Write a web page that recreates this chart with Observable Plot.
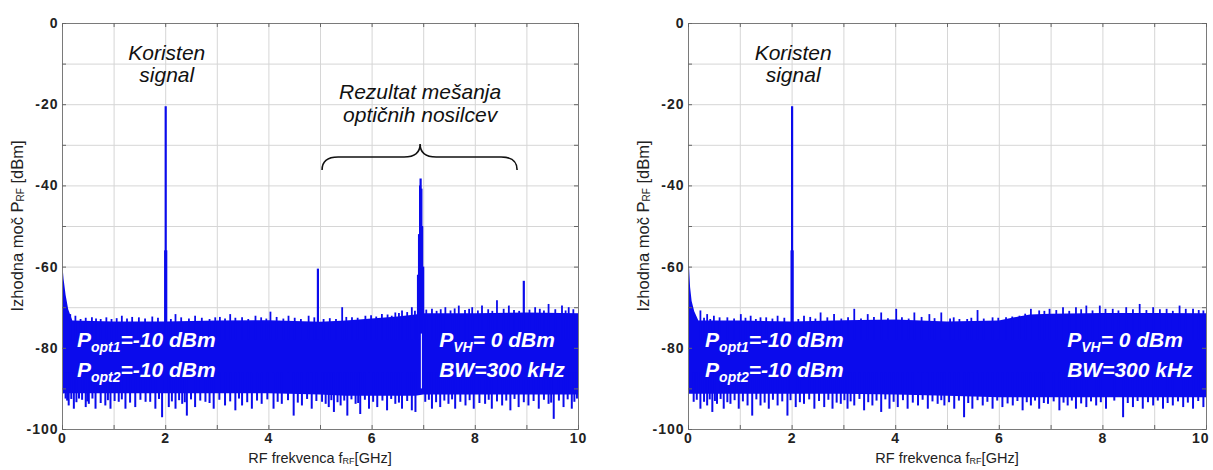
<!DOCTYPE html>
<html><head><meta charset="utf-8">
<script src="https://cdn.jsdelivr.net/npm/d3@7"></script>
<script src="https://cdn.jsdelivr.net/npm/@observablehq/plot@0.6"></script>
<style>
body{margin:0;background:#fff;}
#wrap{display:flex;width:1213px;height:470px;overflow:hidden;}
svg{display:block;}
svg text{font-family:"Liberation Sans",Arial,sans-serif;}
g[aria-label$="tick label"]{font-weight:bold;font-size:14px;fill:#222;letter-spacing:1px;}
</style></head><body><div id="wrap"></div>
<script>
// ---------- axis ticks ----------
const xTicks = [0, 2, 4, 6, 8, 10];
const yTicks = [0, -20, -40, -60, -80, -100];
const xGrid = [0, 1, 2, 3, 4, 5, 6, 7, 8, 9, 10];
const yGrid = [0, -10, -20, -30, -40, -50, -60, -70, -80, -90, -100];

// ---------- left panel (with mixing products) ----------
const leftEnvX = [0, 0.01, 0.03, 0.07, 0.12, 0.2, 1, 2, 3, 4, 5, 5.5, 6, 6.5, 6.85, 7, 8, 9, 10];
const leftEnvTop = [-59, -60, -63, -67, -70.5, -73.3, -73.5, -73.5, -73.3, -73.2, -73.6, -73.3, -72.8, -72.3, -71.8, -71.5, -71.5, -71.3, -71.5];
const leftEnvBottom = [-92, -91.5, -91.2, -91.2, -91.2, -91.2, -91.2, -91.2, -91.2, -91.2, -91.5, -91.8, -91.8, -91.8, -91.8, -91.5, -91.5, -91.5, -91.5];
const leftDipX = [0.06,0.12,0.22,0.32,0.45,0.51,0.64,0.83,0.93,1.09,1.22,1.41,1.61,1.80,1.93,2.06,2.19,2.32,2.41,2.57,2.77,2.93,3.15,3.35,3.48,3.67,3.86,4.09,4.25,4.48,4.64,4.83,
  5.03,5.16,5.26,5.39,5.52,5.68,5.77,5.94,6.10,6.29,6.45,6.58,6.77,6.84,7.03,7.16,7.32,7.48,7.61,7.81,7.97,8.19,8.32,8.52,8.68,8.84,9.03,9.23,9.42,9.52,9.71,9.87,9.97];
const leftDipY = [-92.5,-94.2,-95,-92.5,-94.6,-93.8,-95,-94.2,-95,-93.3,-95,-94.6,-93.3,-95,-97.1,-94.6,-95,-93.8,-96.7,-94.6,-93.3,-95,-94.2,-95.4,-94.2,-95,-93.8,-95,-93.8,-96.7,-94.2,-95,
  -93.3,-94.6,-95.8,-94.2,-96.7,-93.8,-96.3,-95,-94.6,-95.4,-93.8,-95,-95.4,-95.8,-93.3,-95,-94.6,-93.8,-95,-94.2,-95,-93.8,-95,-94.2,-95.4,-94.6,-94.2,-95,-93.8,-97.5,-94.6,-95,-92.5];
// shallower dips between the deep ones, as [GHz, dBm]
const leftDip2 = [[0.09,-93],[0.17,-92.6],[0.27,-93.4],[0.38,-92.8],[0.48,-93.2],[0.58,-92.5],[0.74,-93.6],[0.88,-92.9],[1.01,-93.1],[1.15,-92.7],[1.31,-93.5],[1.51,-92.8],[1.70,-93.3],[1.87,-92.6],
  [2.12,-93.2],[2.26,-92.9],[2.37,-93.4],[2.49,-92.7],[2.67,-93],[2.85,-93.6],[3.04,-92.8],[3.25,-93.2],[3.42,-92.5],[3.58,-93.4],[3.77,-93],[3.97,-92.7],[4.17,-93.3],[4.37,-92.9],[4.56,-93.5],[4.74,-92.6],[4.92,-93.1],
  [5.10,-93.8],[5.21,-92.9],[5.33,-93.4],[5.46,-93],[5.60,-92.7],[5.73,-93.6],[5.86,-92.8],[6.02,-93.3],[6.20,-93],[6.37,-92.6],[6.52,-93.5],[6.68,-93.1],
  [7.10,-92.8],[7.24,-93.4],[7.40,-93],[7.55,-92.7],[7.71,-93.3],[7.89,-92.9],[8.08,-93.6],[8.26,-92.8],[8.42,-93.2],[8.60,-93],[8.76,-92.6],[8.94,-93.4],[9.13,-93.1],[9.33,-92.8],[9.47,-93.5],[9.62,-93],[9.79,-92.7],[9.92,-93.3]];
const leftBumpX = [0.15,0.25,0.57,0.74,1.15,1.48,1.74,2.19,2.57,2.96,3.25,3.48,3.74,4.03,4.38,4.77,5.06,5.42,5.61,5.87,6.19,6.45,6.58,6.77,7.16,7.42,7.68,7.94,8.13,8.42,8.65,9.16,9.42,9.68,9.81];
const leftBumpY = [-71.7,-72.1,-72.5,-72.9,-72.1,-72.5,-72.3,-71.7,-72.1,-72.5,-71.7,-72.5,-72.1,-71.1,-72.1,-72.1,-72.9,-70.0,-72.5,-72.1,-71.7,-71.3,-70.8,-70.0,-70.4,-70.0,-69.6,-70.0,-69.6,-68.3,-69.6,-70.0,-69.2,-69.6,-70.0];
const leftBump2 = [[0.35,-72.9],[0.45,-72.6],[0.65,-72.8],[0.85,-72.5],[0.95,-72.9],[1.05,-72.7],[1.25,-72.8],[1.35,-72.4],[1.6,-72.8],[1.85,-72.6],[2.1,-72.9],[2.3,-72.5],[2.45,-72.8],[2.7,-72.6],[2.85,-72.9],
  [3.05,-72.4],[3.15,-72.8],[3.35,-72.6],[3.6,-72.9],[3.85,-72.5],[3.95,-72.8],[4.15,-72.4],[4.28,-72.8],[4.5,-72.6],[4.62,-72.9],[4.88,-72.5],[5.18,-72.7],[5.3,-72.9],[5.5,-72.4],[5.72,-72.6],
  [5.98,-72.0],[6.08,-72.3],[6.3,-71.8],[6.38,-72.1],[6.52,-71.4],[6.68,-71.2],[6.83,-70.9],[7.05,-70.6],[7.25,-70.9],[7.33,-70.5],[7.52,-70.8],[7.6,-70.3],[7.8,-70.7],[7.88,-70.4],[8.05,-70.8],
  [8.25,-70.5],[8.33,-70.9],[8.55,-70.4],[8.75,-70.7],[8.85,-70.9],[9.05,-70.6],[9.25,-70.4],[9.33,-70.8],[9.55,-70.5],[9.75,-70.8],[9.9,-70.5]];
const leftPeakX = [1.99, 2.0, 2.01, 4.95, 6.89, 6.91, 6.93, 6.94, 6.955, 6.97, 6.99, 8.94];
const leftPeakY = [-56, -20.5, -56, -60.5, -62, -52, -40, -38.3, -40.8, -50, -60, -63.5];
const leftGapX = [6.955];

// ---------- right panel ----------
const rightEnvX = [0, 0.01, 0.02, 0.04, 0.07, 0.12, 0.2, 1, 2, 3, 4, 5, 6, 6.3, 6.6, 7, 8, 9, 10];
const rightEnvTop = [-53, -55, -60, -65, -68.5, -71, -73.3, -73.3, -73.5, -73.2, -73, -73.5, -73.3, -72.5, -71.8, -71.6, -71.4, -71.4, -71.5];
const rightEnvBottom = [-92, -91.5, -91.3, -91.3, -91.3, -91.3, -91.3, -91.3, -91.3, -91.3, -91.5, -91.8, -92.2, -92.2, -92.2, -92.2, -92.2, -92.2, -92.2];
const rightDipX = [0.10,0.23,0.36,0.46,0.55,0.68,0.81,0.97,1.14,1.23,1.39,1.55,1.72,1.91,2.07,2.23,2.43,2.62,2.78,2.94,3.07,3.20,3.39,3.55,3.72,3.88,4.04,4.23,4.43,4.62,4.81,
  4.94,5.13,5.32,5.48,5.68,5.87,6.06,6.26,6.45,6.61,6.77,6.94,7.16,7.32,7.48,7.68,7.87,8.06,8.39,8.58,8.77,8.97,9.16,9.35,9.55,9.74,9.94];
const rightDipY = [-93.3,-95,-94.2,-95.8,-93.8,-95,-93.8,-95,-94.2,-96.7,-94.2,-95,-94.2,-96.7,-94.6,-93.8,-95,-94.6,-95,-93.8,-95,-94.2,-95.4,-94.2,-95.8,-95,-94.6,-95,-94.2,-95,-93.8,
  -94.2,-95,-97.1,-95,-94.2,-95,-94.6,-94.2,-95.4,-94.2,-95,-93.8,-95.4,-94.2,-95,-94.6,-94.2,-95,-97.1,-94.6,-95,-94.2,-95,-94.2,-94.6,-95,-94.6];
const rightDip2 = [[0.16,-92.8],[0.30,-93.3],[0.41,-92.7],[0.51,-93.1],[0.62,-92.6],[0.75,-93.4],[0.89,-92.9],[1.05,-93.2],[1.31,-92.7],[1.47,-93.5],[1.63,-92.8],[1.81,-93.2],[1.97,-92.9],
  [2.15,-93.4],[2.33,-92.7],[2.52,-93.1],[2.70,-92.8],[2.86,-93.5],[3.01,-92.9],[3.13,-93.2],[3.30,-92.6],[3.47,-93.4],[3.63,-93],[3.80,-92.7],[3.96,-93.3],[4.14,-92.9],[4.33,-93.5],[4.52,-92.8],[4.71,-93.2],[4.88,-92.9],
  [5.03,-93.4],[5.22,-93],[5.40,-93.6],[5.58,-92.9],[5.77,-93.3],[5.96,-93],[6.16,-93.7],[6.35,-93.1],[6.53,-93.4],[6.69,-93],[6.86,-93.6],[7.05,-93.2],[7.24,-93.5],[7.40,-93],
  [7.58,-93.7],[7.77,-93.2],[7.96,-93.4],[8.22,-93],[8.48,-93.6],[8.67,-93.1],[8.87,-93.4],[9.06,-93],[9.25,-93.6],[9.45,-93.2],[9.64,-93.5],[9.84,-93.1]];
const rightBumpX = [0.23,0.36,0.49,0.75,1.01,1.20,1.39,1.72,2.23,2.55,2.81,3.20,3.46,3.72,4.01,4.36,4.65,4.88,5.23,5.58,5.87,6.13,6.39,6.61,6.77,6.97,7.23,7.48,7.68,7.94,8.19,8.45,8.71,8.97,9.23,9.48,9.74,9.94];
const rightBumpY = [-70.8,-71.7,-72.1,-72.5,-71.7,-72.1,-72.5,-72.1,-72.1,-71.3,-71.7,-70.4,-71.7,-71.3,-70.4,-71.3,-71.7,-71.3,-72.9,-70.7,-72.5,-72.5,-72.1,-70.4,-70.8,-70.4,-70,-70,-69.6,-69.6,-70.4,-70,-69.2,-70,-70.4,-69.6,-70.4,-70.8];
const rightBump2 = [[0.3,-72.6],[0.42,-72.9],[0.6,-72.5],[0.88,-72.8],[1.1,-72.6],[1.3,-72.9],[1.5,-72.5],[1.62,-72.8],[1.85,-72.6],[2.12,-72.9],[2.35,-72.4],[2.45,-72.8],[2.68,-72.5],[2.95,-72.8],[3.08,-72.5],
  [3.33,-72.8],[3.58,-72.4],[3.85,-72.7],[4.12,-72.5],[4.25,-72.8],[4.5,-72.4],[4.75,-72.7],[5.05,-72.8],[5.12,-72.5],[5.38,-72.9],[5.46,-72.6],[5.7,-72.8],[5.98,-72.6],[6.25,-72.3],[6.5,-71.6],
  [6.87,-70.9],[7.1,-70.7],[7.35,-70.9],[7.58,-70.5],[7.8,-70.8],[8.05,-70.4],[8.3,-70.8],[8.58,-70.5],[8.84,-70.7],[9.1,-70.5],[9.35,-70.9],[9.6,-70.4],[9.85,-70.7]];
const rightPeakX = [1.99, 2.0, 2.01];
const rightPeakY = [-56, -20.5, -56];

// ---------- texts ----------
const yLabel = ["Izhodna moč P", "RF", " [dBm]"];
const xLabel = ["RF frekvenca f", "RF", "[GHz]"];
const signalLabel = ["Koristen", "signal"];
const mixLabel = ["Rezultat mešanja", "optičnih nosilcev"];
const optLines = [["P", "opt1", "=-10 dBm"], ["P", "opt2", "=-10 dBm"]];
const rightLines = [["P", "VH", "= 0 dBm"], ["BW=300 kHz", "", ""]];
// brace over mixing products: x range, tip
const braceX = [5.04, 8.82];
const braceTip = [6.94, -29.8];
const braceEndY = -36.2;

const BLUE = "#0b0bec";
const zip = (xs, ys) => xs.map((x, i) => ({x, y: ys[i]}));
const pairs = ps => ps.map(([x, y]) => ({x, y}));

function panel(o) {
  const H = 470, mt = 23, mb = 41;
  const pw = o.width - o.ml - o.mr, ph = H - mt - mb;
  const env = o.envX.map((x, i) => ({x, hi: o.envTop[i], lo: o.envBottom[i]}));
  const marks = [
    Plot.ruleX(xGrid, {x: d => d, stroke: "#d6d6d6", strokeWidth: 1}),
    Plot.ruleY(yGrid, {y: d => d, stroke: "#d6d6d6", strokeWidth: 1}),
    Plot.areaY(env, {x: "x", y1: "lo", y2: "hi", fill: BLUE}),
    Plot.ruleX(zip(o.dipX, o.dipY), {x: "x", y1: () => -86, y2: "y", stroke: BLUE, strokeWidth: 2}),
    Plot.ruleX(pairs(o.dip2), {x: "x", y1: () => -86, y2: "y", stroke: BLUE, strokeWidth: 2}),
    Plot.ruleX(zip(o.bumpX, o.bumpY), {x: "x", y1: () => -78, y2: "y", stroke: BLUE, strokeWidth: 1.8}),
    Plot.ruleX(pairs(o.bump2), {x: "x", y1: () => -78, y2: "y", stroke: BLUE, strokeWidth: 1.8}),
    Plot.ruleX(zip(o.peakX, o.peakY), {x: "x", y1: () => -78, y2: "y", stroke: BLUE, strokeWidth: 2.2})
  ];
  if (o.gapX) marks.push(Plot.ruleX(o.gapX, {x: d => d, y1: () => -76.5, y2: () => -90, stroke: "white", strokeWidth: 1}));
  marks.push(
    Plot.frame({stroke: "#7a7a7a"}),
    Plot.tickX(xGrid, {x: d => d, insetTop: ph - 4, stroke: "#666"}),
    Plot.tickX(xGrid, {x: d => d, insetBottom: ph - 4, stroke: "#666"}),
    Plot.tickY(yGrid, {y: d => d, insetRight: pw - 4, stroke: "#666"}),
    Plot.tickY(yGrid, {y: d => d, insetLeft: pw - 4, stroke: "#666"}),
    Plot.axisX(xTicks, {tickSize: 0, tickPadding: 4, tickFormat: d => String(d), label: null}),
    Plot.axisY(yTicks, {tickSize: 0, tickPadding: 4, tickFormat: d => String(d), label: null})
  );
  const plot = Plot.plot({
    width: o.width, height: H,
    marginTop: mt, marginBottom: mb, marginLeft: o.ml, marginRight: o.mr,
    x: {domain: [0, 10]},
    y: {domain: [-100, 0]},
    style: {background: "white", overflow: "visible"},
    marks
  });
  const sx = plot.scale("x"), sy = plot.scale("y");
  const X = v => sx.apply(v), Y = v => sy.apply(v);
  const svg = d3.select(plot);

  // keep the last x tick label inside the page edge when the margin is narrow
  if (o.mr < 10) {
    svg.selectAll('g[aria-label="x-axis tick label"] text')
      .filter(function () { return this.textContent === "10"; })
      .attr("text-anchor", "end").attr("dx", 10 - o.mr);
  }

  function rich(parent, parts, size, subSize, subDy) {
    parent.append("tspan").text(parts[0]);
    if (parts[1]) parent.append("tspan").attr("font-size", subSize).attr("dy", subDy).text(parts[1]);
    if (parts[2]) parent.append("tspan").attr("font-size", size).attr("dy", parts[1] ? -subDy : 0).text(parts[2]);
  }
  // y label
  const yl = svg.append("text")
    .attr("transform", `translate(${o.ml - 39},${mt + ph / 2}) rotate(-90)`)
    .attr("text-anchor", "middle").attr("font-size", 16.5).attr("fill", "#222");
  rich(yl, yLabel, 16.5, 10, 1);
  // x label
  const xl = svg.append("text")
    .attr("x", o.ml + pw / 2).attr("y", H - 7)
    .attr("text-anchor", "middle").attr("font-size", 14.5).attr("fill", "#222");
  rich(xl, xLabel, 14.5, 9, 1);
  // signal label
  signalLabel.forEach((t, i) => svg.append("text")
    .attr("x", X(2.03)).attr("y", Y([-9.1, -14.5][i]))
    .attr("text-anchor", "middle").attr("font-size", 21).attr("font-style", "italic").attr("fill", "#111").text(t));
  // white annotations
  optLines.forEach((parts, i) => {
    const t = svg.append("text").attr("x", X(o.annX1)).attr("y", Y([-79.8, -87.2][i]))
      .attr("text-anchor", "start")
      .attr("font-size", 21).attr("font-weight", "bold").attr("font-style", "italic").attr("fill", "white");
    rich(t, parts, 21, 14, 5);
  });
  rightLines.forEach((parts, i) => {
    const t = svg.append("text").attr("x", X(o.annX2)).attr("y", Y([-79.8, -87.2][i]))
      .attr("text-anchor", "start")
      .attr("font-size", 21).attr("font-weight", "bold").attr("font-style", "italic").attr("fill", "white");
    rich(t, parts, 21, 14, 5);
  });
  if (o.mix) {
    mixLabel.forEach((t, i) => svg.append("text")
      .attr("x", X(braceTip[0])).attr("y", Y([-18.7, -24.4][i]))
      .attr("text-anchor", "middle").attr("font-size", 21).attr("font-style", "italic").attr("fill", "#111").text(t));
    const x0 = X(braceX[0]), x1 = X(braceX[1]), xm = X(braceTip[0]);
    const yb = Y(braceEndY), yt = Y(braceTip[1]), ym = (yb + yt) / 2, r = 16;
    svg.append("path")
      .attr("d", `M${x0},${yb} Q${x0},${ym} ${x0 + r},${ym} L${xm - r},${ym} Q${xm},${ym} ${xm},${yt} Q${xm},${ym} ${xm + r},${ym} L${x1 - r},${ym} Q${x1},${ym} ${x1},${yb}`)
      .attr("fill", "none").attr("stroke", "#111").attr("stroke-width", 1.6);
  }
  return plot;
}

const wrap = document.getElementById("wrap");
wrap.appendChild(panel({
  width: 606, ml: 62, mr: 28,
  envX: leftEnvX, envTop: leftEnvTop, envBottom: leftEnvBottom,
  dipX: leftDipX, dipY: leftDipY, dip2: leftDip2, bumpX: leftBumpX, bumpY: leftBumpY, bump2: leftBump2,
  peakX: leftPeakX, peakY: leftPeakY, gapX: leftGapX,
  annX1: 0.29, annX2: 7.31, mix: true
}));
wrap.appendChild(panel({
  width: 607, ml: 82, mr: 7,
  envX: rightEnvX, envTop: rightEnvTop, envBottom: rightEnvBottom,
  dipX: rightDipX, dipY: rightDipY, dip2: rightDip2, bumpX: rightBumpX, bumpY: rightBumpY, bump2: rightBump2,
  peakX: rightPeakX, peakY: rightPeakY, gapX: null,
  annX1: 0.33, annX2: 7.32, mix: false
}));
</script></body></html>
